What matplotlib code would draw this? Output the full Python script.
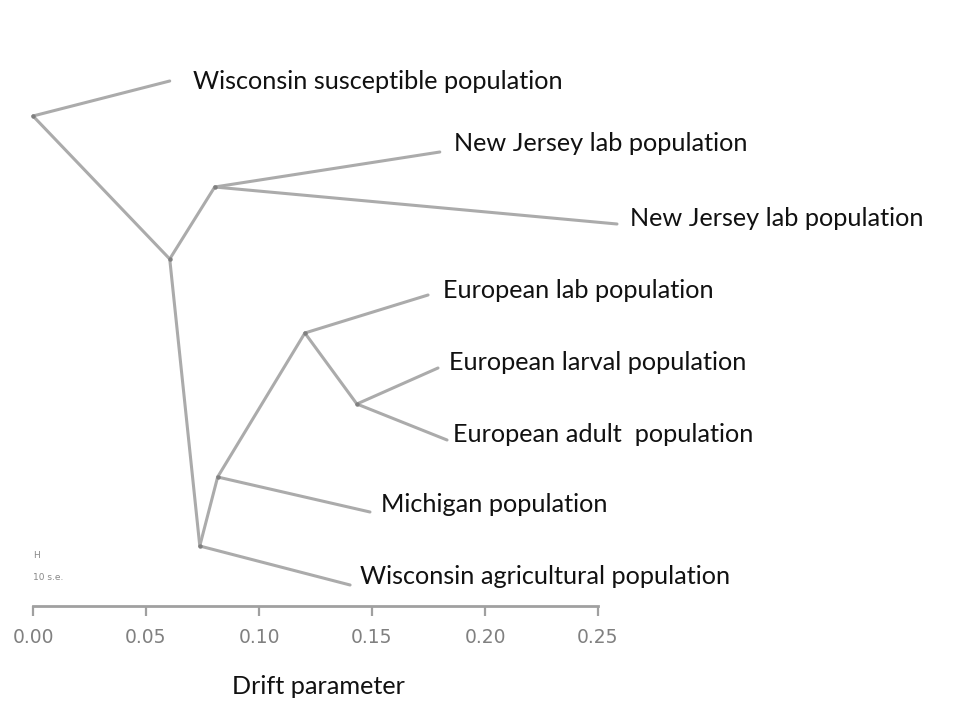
import matplotlib.pyplot as plt

# drift values (x) of nodes
node_names = ["root", "b", "nj", "d", "e", "eu", "eu2"]
node_drift = [0.000, 0.0605, 0.0804, 0.0738, 0.0817, 0.1203, 0.1433]
node_row = [116, 259, 187, 546, 477, 333, 404]

tip_names = [
    "Wisconsin susceptible population",
    "New Jersey lab population",
    "New Jersey lab population",
    "European lab population",
    "European larval population",
    "European adult  population",
    "Michigan population",
    "Wisconsin agricultural population",
]
tip_drift = [0.0605, 0.1800, 0.2584, 0.1748, 0.1792, 0.1832, 0.1491, 0.1403]
tip_row = [81, 152, 224, 295, 368, 440, 512, 585]
tip_parent = ["root", "nj", "nj", "eu", "eu2", "eu2", "e", "d"]

# internal edges (parent -> child)
edges = [("root", "b"), ("b", "nj"), ("b", "d"), ("d", "e"), ("e", "eu"), ("eu", "eu2")]

ticks = [0.00, 0.05, 0.10, 0.15, 0.20, 0.25]

W, H = 969, 725
px = 0.25 / 565.0  # drift units per pixel

fig = plt.figure(figsize=(W / 100, H / 100), dpi=100)
ax = fig.add_axes([0, 0, 1, 1])
ax.set_xlim(-33 * px, -33 * px + W * px)
ax.set_ylim(H, 0)
ax.axis("off")

line_col = "#ababab"
pos = dict(zip(node_names, zip(node_drift, node_row)))

for a, b in edges:
    ax.plot([pos[a][0], pos[b][0]], [pos[a][1], pos[b][1]],
            color=line_col, lw=2.2, solid_capstyle="round")

for name, x, y, p in zip(tip_names, tip_drift, tip_row, tip_parent):
    ax.plot([pos[p][0], x], [pos[p][1], y], color=line_col, lw=2.2,
            solid_capstyle="round")

# small dark dots at internal nodes
for n in node_names:
    ax.plot(pos[n][0], pos[n][1], "o", ms=2.2, color="#808080")

# tip labels, a bit right of and above each tip
label_dx = [23, 14, 13, 15, 11, 6, 11, 10]
label_dy = [0, -9, -6, -5, -6, -6, -8, -9]
for name, x, y, dx, dy in zip(tip_names, tip_drift, tip_row, label_dx, label_dy):
    ax.text(x + dx * px, y + dy, name, fontsize=18.2, family="Lato",
            color="#111111", va="center", ha="left")

# small "H" / "10 s.e." marks
ax.text(0.0, 556, "H", fontsize=6.5, color="#888888", va="center")
ax.text(0.0, 578, "10 s.e.", fontsize=6.5, color="#888888", va="center")

ax.text(318 * px - 33 * px, 686, "Drift parameter", fontsize=18.2, family="Lato",
        color="#111111", ha="center", va="center")

# scale axis
sc = fig.add_axes([33 / W, (H - 606) / H, 565 / W, 0.0001])
sc.set_xlim(0, 0.25)
sc.set_xticks(ticks)
sc.set_xticklabels([f"{t:.2f}" for t in ticks])
sc.set_yticks([])
for s in ["top", "left", "right"]:
    sc.spines[s].set_visible(False)
sc.spines["bottom"].set_color("#a0a0a0")
sc.spines["bottom"].set_linewidth(2.0)
sc.tick_params(axis="x", length=7, width=1.6, color="#a0a0a0",
               labelcolor="#808080", labelsize=13.5, pad=9)
sc.patch.set_alpha(0)

fig.savefig("out.png", dpi=100)
